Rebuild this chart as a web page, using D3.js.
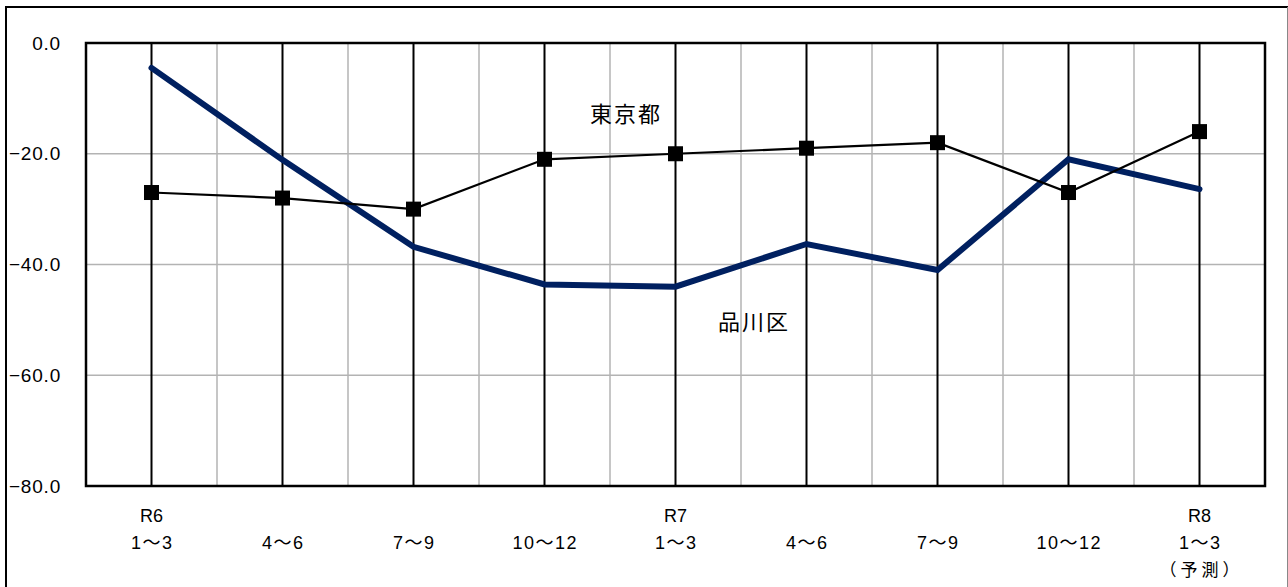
<!DOCTYPE html>
<html><head><meta charset="utf-8">
<script src="https://cdn.jsdelivr.net/npm/d3@7"></script>
<style>
html,body{margin:0;padding:0;background:#fff;}
svg{display:block;}
text{font-family:"Liberation Sans","Noto Sans CJK JP",sans-serif;fill:#000;}
</style></head>
<body>
<svg id="chart" width="1288" height="587"></svg>
<script>
const categories = ["R6\n1〜3","4〜6","7〜9","10〜12","R7\n1〜3","4〜6","7〜9","10〜12","R8\n1〜3\n（予測）"];
const tokyoValues = [-27, -28, -30, -21, -20, -19, -18, -27, -16];
const shinagawaValues = [-4.5, -21.1, -36.8, -43.6, -44.0, -36.3, -41.0, -21.0, -26.4];
const yTicks = [0, -20, -40, -60, -80];
const seriesNames = ["東京都", "品川区"];

const svg = d3.select("#chart");
const L = 86, R = 1265, T = 43, B = 486;

// outer frame
svg.append("line").attr("x1",6).attr("x2",6).attr("y1",6).attr("y2",587).attr("stroke","#000").attr("stroke-width",2);
svg.append("line").attr("x1",5).attr("x2",1288).attr("y1",7).attr("y2",7).attr("stroke","#000").attr("stroke-width",2);
svg.append("line").attr("x1",1287.5).attr("x2",1287.5).attr("y1",7).attr("y2",587).attr("stroke","#888").attr("stroke-width",1);

const x = d3.scaleBand().domain(d3.range(categories.length)).range([L,R]).padding(0);
const cx = i => x(i) + x.bandwidth()/2;
const y = d3.scaleLinear().domain([-80,0]).range([B,T]);

// horizontal gridlines
svg.append("g").selectAll("line").data(yTicks.filter(t=>t!==0 && t!==-80)).join("line")
  .attr("x1",L).attr("x2",R).attr("y1",d=>y(d)).attr("y2",d=>y(d))
  .attr("stroke","#b3b3b3").attr("stroke-width",1.5);
// gray vertical lines at band boundaries
svg.append("g").selectAll("line").data(d3.range(1,categories.length)).join("line")
  .attr("x1",d=>x(d)).attr("x2",d=>x(d)).attr("y1",T).attr("y2",B)
  .attr("stroke","#b3b3b3").attr("stroke-width",1.5);
// black vertical lines at categories
svg.append("g").selectAll("line").data(d3.range(categories.length)).join("line")
  .attr("x1",d=>cx(d)).attr("x2",d=>cx(d)).attr("y1",T).attr("y2",B)
  .attr("stroke","#000").attr("stroke-width",2);
// plot border
svg.append("rect").attr("x",L).attr("y",T).attr("width",R-L).attr("height",B-T)
  .attr("fill","none").attr("stroke","#000").attr("stroke-width",2.5);

// y labels
svg.append("g").selectAll("text").data(yTicks).join("text")
  .attr("x",61).attr("y",d=>y(d)).attr("dy","0.35em").attr("text-anchor","end")
  .attr("font-size",19).attr("letter-spacing",0.8).text(d=>d3.format(".1f")(d).replace("-","−"));

// x labels
const xl = svg.append("g").selectAll("text").data(categories).join("text")
  .attr("text-anchor","middle").attr("font-size",18);
xl.each(function(d,i){
  const parts = d.split("\n");
  const g = d3.select(this);
  let lines;
  if (parts.length === 1) lines = [{t:parts[0], yy:549}];
  else if (parts.length === 2) lines = [{t:parts[0], yy:522},{t:parts[1], yy:549}];
  else lines = [{t:parts[0], yy:522},{t:parts[1], yy:549},{t:parts[2], yy:576}];
  lines.forEach((l,k) => {
    const ts = g.append("tspan").attr("x",cx(i)).attr("y",l.yy).text(l.t);
    if (k === 2) ts.attr("font-family","Noto Sans CJK JP").attr("font-size",17).attr("letter-spacing",4).attr("dx",2);
    else if (/〜/.test(l.t)) ts.attr("letter-spacing",1.5).attr("dx",0.75);
  });
});

// Shinagawa line
const line = d3.line().x((d,i)=>cx(i)).y(d=>y(d));
svg.append("path").datum(shinagawaValues).attr("d",line)
  .attr("fill","none").attr("stroke","#002060").attr("stroke-width",6)
  .attr("stroke-linejoin","miter").attr("stroke-linecap","round");
// Tokyo line
svg.append("path").datum(tokyoValues).attr("d",line)
  .attr("fill","none").attr("stroke","#000").attr("stroke-width",2.2);
svg.append("g").selectAll("rect").data(tokyoValues).join("rect")
  .attr("x",(d,i)=>cx(i)-7.5).attr("y",d=>y(d)-7.5).attr("width",15).attr("height",15).attr("fill","#000");

// series labels
svg.append("text").attr("x",626).attr("y",122).attr("text-anchor","middle")
  .attr("font-size",22).attr("letter-spacing",2).text(seriesNames[0]);
svg.append("text").attr("x",754).attr("y",330).attr("text-anchor","middle")
  .attr("font-size",22).attr("letter-spacing",2).text(seriesNames[1]);
</script>
</body></html>
